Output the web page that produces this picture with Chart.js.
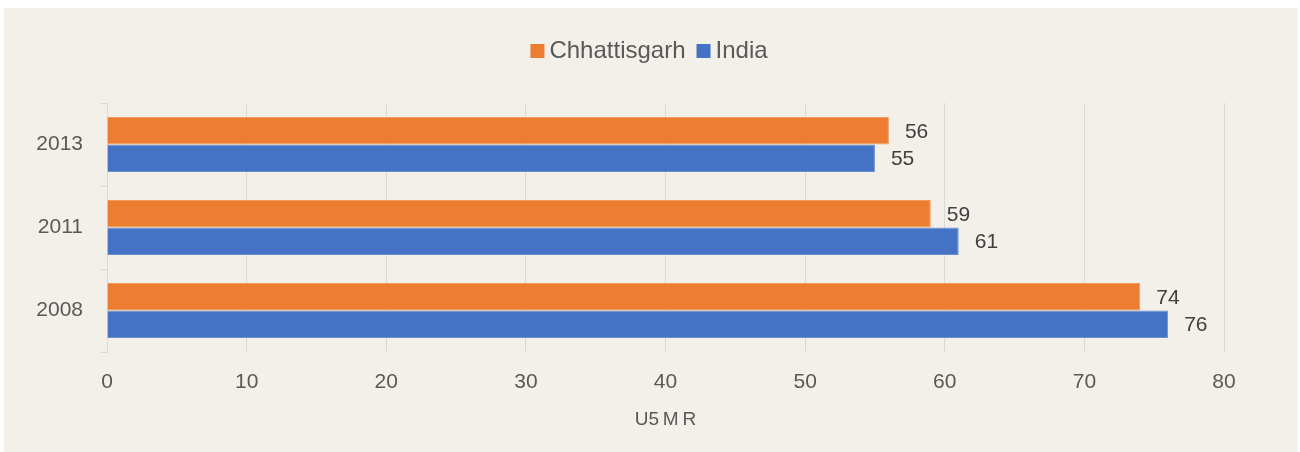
<!DOCTYPE html>
<html>
<head>
<meta charset="utf-8">
<script src="https://cdn.jsdelivr.net/npm/chart.js@4"></script>
<style>
  html, body { margin: 0; padding: 0; background: #ffffff; }
  #panel { position: absolute; left: 4px; top: 8px; width: 1294px; height: 444px; background: #f3f0e9; }
</style>
</head>
<body>
<div id="panel"><canvas id="myChart" width="1294" height="444"></canvas></div>
<script>
// data
var years = ['2013', '2011', '2008'];
var chhattisgarh = [56, 59, 74];
var india = [55, 61, 76];
var xTicks = [0, 10, 20, 30, 40, 50, 60, 70, 80];

var FONT = '"Liberation Sans", Arial, Helvetica, sans-serif';

// value labels at the end of each bar
var barLabels = {
    id: 'barLabels',
    afterDatasetsDraw: function (chart) {
        var ctx = chart.ctx;
        ctx.save();
        ctx.font = '21px ' + FONT;
        ctx.fillStyle = '#404040';
        ctx.textAlign = 'left';
        ctx.textBaseline = 'middle';
        chart.data.datasets.forEach(function (ds, i) {
            chart.getDatasetMeta(i).data.forEach(function (bar, j) {
                ctx.fillText(ds.data[j], bar.x + 16, bar.y + 1);
            });
        });
        ctx.restore();
    }
};

// legend drawn by hand, tight box/text gap like the original
var topLegend = {
    id: 'topLegend',
    afterDraw: function (chart) {
        var ctx = chart.ctx;
        var box = 14, gap = 5, between = 11;
        ctx.save();
        ctx.font = '24px ' + FONT;
        ctx.textBaseline = 'middle';
        ctx.textAlign = 'left';
        var items = chart.data.datasets.map(function (ds) {
            return { text: ds.label, color: ds.backgroundColor, w: ctx.measureText(ds.label).width };
        });
        var total = 0;
        items.forEach(function (it, i) {
            total += box + gap + it.w + (i < items.length - 1 ? between : 0);
        });
        var x = chart.width / 2 - 2 - total / 2;
        var yMid = 43;
        items.forEach(function (it) {
            ctx.fillStyle = it.color;
            ctx.fillRect(x, yMid - box / 2, box, box);
            x += box + gap;
            ctx.fillStyle = '#595959';
            ctx.fillText(it.text, x, yMid);
            x += it.w + between;
        });
        ctx.restore();
    }
};

var ctx = document.getElementById('myChart').getContext('2d');
var myChart = new Chart(ctx, {
    type: 'bar',
    data: {
        labels: years,
        datasets: [{
            label: 'Chhattisgarh',
            data: chhattisgarh,
            backgroundColor: '#ed7d31',
            borderColor: '#f19a5e',
            borderWidth: 1,
            categoryPercentage: 0.663,
            barPercentage: 1.0
        }, {
            label: 'India',
            data: india,
            backgroundColor: '#4472c4',
            borderColor: '#6a8fd1',
            borderWidth: 1,
            categoryPercentage: 0.663,
            barPercentage: 1.0
        }]
    },
    options: {
        indexAxis: 'y',
        responsive: false,
        animation: false,
        layout: {
            padding: { top: 95, right: 74, bottom: 0, left: 0 }
        },
        scales: {
            x: {
                min: 0,
                max: 80,
                afterBuildTicks: function (scale) {
                    scale.ticks = xTicks.map(function (v) { return { value: v }; });
                },
                afterFit: function (scale) { scale.height = 100; },
                grid: { color: '#d9d9d9', drawTicks: false },
                border: { display: false },
                ticks: {
                    padding: 18,
                    color: '#595959',
                    font: { family: FONT, size: 21 }
                },
                title: {
                    display: true,
                    text: 'U5\u2009M\u2009R',
                    color: '#595959',
                    font: { family: FONT, size: 19 },
                    padding: { top: 4, bottom: 21 }
                }
            },
            y: {
                afterFit: function (scale) { scale.width = 103; },
                grid: {
                    drawOnChartArea: false,
                    drawTicks: true,
                    tickLength: 6,
                    color: '#d9d9d9'
                },
                border: { display: true, color: '#d9d9d9' },
                ticks: {
                    padding: 18,
                    color: '#595959',
                    font: { family: FONT, size: 21 }
                }
            }
        },
        plugins: {
            legend: { display: false },
            tooltip: { enabled: false }
        }
    },
    plugins: [barLabels, topLegend]
});
</script>
</body>
</html>
